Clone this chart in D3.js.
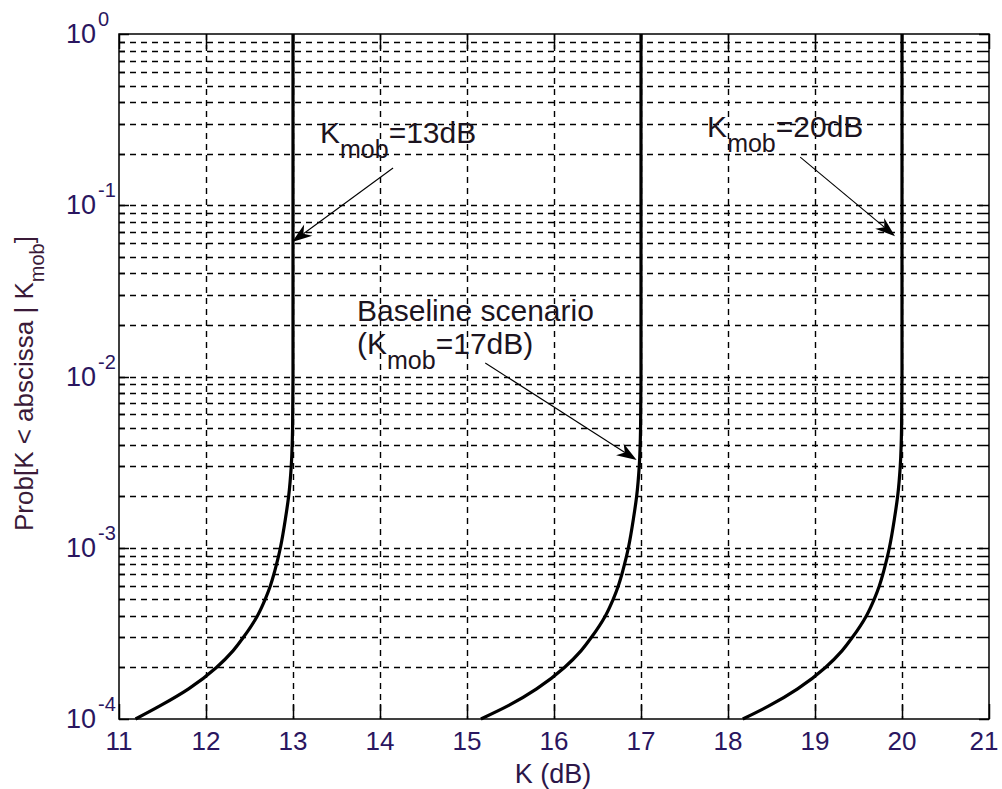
<!DOCTYPE html>
<html>
<head>
<meta charset="utf-8">
<script src="https://cdn.jsdelivr.net/npm/d3@7"></script>
<style>
  html, body { margin: 0; padding: 0; background: #fff; }
  svg { display: block; font-family: Arial, "Liberation Sans", sans-serif; }
</style>
</head>
<body>
<svg id="chart" width="1002" height="789"></svg>
<script>
// Probability levels at which each cumulative curve is sampled
const probLevels = [1e-4, 1.2e-4, 1.5e-4, 2e-4, 2.5e-4, 3e-4, 4e-4, 5e-4, 6e-4, 7e-4,
                    8e-4, 9e-4, 1e-3, 1.5e-3, 2e-3, 3e-3, 5e-3, 1e-2, 1e-1, 1];

// K (dB) reached at each probability level, one array per K_mob value
const kMob13 = [11.19, 11.48, 11.80, 12.12, 12.31, 12.43, 12.59, 12.68, 12.74, 12.78,
                12.81, 12.835, 12.855, 12.915, 12.95, 12.98, 12.995, 13.0, 13.0, 13.0];
const kMob17 = [15.16, 15.48, 15.80, 16.12, 16.31, 16.43, 16.59, 16.68, 16.74, 16.78,
                16.81, 16.835, 16.855, 16.915, 16.95, 16.98, 16.995, 17.0, 17.0, 17.0];
const kMob20 = [18.17, 18.48, 18.80, 19.12, 19.31, 19.43, 19.59, 19.68, 19.74, 19.78,
                19.81, 19.835, 19.855, 19.915, 19.95, 19.98, 19.995, 20.0, 20.0, 20.0];
const seriesK = [kMob13, kMob17, kMob20];

// Axis tick values
const xTicks = [11, 12, 13, 14, 15, 16, 17, 18, 19, 20, 21];
const yExponents = [0, -1, -2, -3, -4];

// Annotation labels: text lines, label anchor and arrow in (K, Prob) units
const annLines = [
  [{ pre: "K", sub: "mob", post: "=13dB" }],
  [{ pre: "K", sub: "mob", post: "=20dB" }],
  [{ pre: "Baseline scenario", sub: "", post: "" }, { pre: "(K", sub: "mob", post: "=17dB)" }]
];
const annAnchorK = [13.31, 17.76, 13.736];
const annAnchorP = [0.231, 0.251, 0.0212];
const arrowFromK = [14.15, 18.83, 15.21];
const arrowFromP = [0.165, 0.191, 0.012];
const arrowToK   = [12.99, 19.92, 16.95];
const arrowToP   = [0.061, 0.066, 0.00325];

const svg = d3.select("#chart");
const plotL = 119, plotR = 989, plotT = 34, plotB = 719;

const x = d3.scaleLinear().domain([11, 21]).range([plotL, plotR]);
const y = d3.scaleLog().domain([1e-4, 1]).range([plotB, plotT]);

svg.append("rect").attr("width", 1002).attr("height", 789).attr("fill", "#fff");

// Minor/major horizontal grid positions on the log axis
const yGridVals = [];
for (let e = -4; e < 0; e++) {
  for (let m = 1; m <= 9; m++) yGridVals.push(m * Math.pow(10, e));
}
yGridVals.push(1);

const grid = svg.append("g").attr("stroke", "#000").attr("stroke-width", 1.4)
  .attr("stroke-dasharray", "6,5").attr("fill", "none");

grid.selectAll("line.h").data(yGridVals.filter(v => v > 1e-4 && v < 1)).join("line")
  .attr("class", "h")
  .attr("x1", plotL).attr("x2", plotR)
  .attr("y1", d => Math.round(y(d)) + 0.5).attr("y2", d => Math.round(y(d)) + 0.5);

grid.selectAll("line.v").data(xTicks.filter(v => v > 11 && v < 21)).join("line")
  .attr("class", "v")
  .attr("y1", plotT).attr("y2", plotB)
  .attr("x1", d => Math.round(x(d)) + 0.5).attr("x2", d => Math.round(x(d)) + 0.5);

// Axes with inward ticks on all four sides
const axes = svg.append("g").attr("stroke", "#000").attr("stroke-width", 1.5);
const majorLen = 15, yMajorLen = 10, yMinorLen = 6;

xTicks.forEach(v => {
  const px = Math.round(x(v)) + 0.5;
  axes.append("line").attr("x1", px).attr("x2", px).attr("y1", plotB).attr("y2", plotB - majorLen);
  axes.append("line").attr("x1", px).attr("x2", px).attr("y1", plotT).attr("y2", plotT + majorLen);
});
yGridVals.forEach(v => {
  const py = Math.round(y(v)) + 0.5;
  const isMajor = Math.abs(Math.log10(v) - Math.round(Math.log10(v))) < 1e-9;
  const len = isMajor ? yMajorLen : yMinorLen;
  axes.append("line").attr("x1", plotL).attr("x2", plotL + len).attr("y1", py).attr("y2", py);
  axes.append("line").attr("x1", plotR).attr("x2", plotR - len).attr("y1", py).attr("y2", py);
});

axes.append("rect")
  .attr("x", plotL).attr("y", plotT)
  .attr("width", plotR - plotL).attr("height", plotB - plotT)
  .attr("fill", "none");

// Tick labels (the last one is nudged so it stays inside the page)
const tickColor = "#2a1660";
svg.append("g").selectAll("text").data(xTicks).join("text")
  .attr("x", d => Math.min(x(d), 984)).attr("y", 750)
  .attr("text-anchor", "middle")
  .attr("font-size", 26).attr("fill", tickColor)
  .text(d => d);

const yl = svg.append("g").selectAll("text").data(yExponents).join("text")
  .attr("x", 66).attr("y", d => y(Math.pow(10, d)) + 9)
  .attr("font-size", 27).attr("fill", tickColor);
yl.append("tspan").text("10");
yl.append("tspan").attr("font-size", 20).attr("dx", 2).attr("dy", -17).text(d => d);

// Axis labels
svg.append("text")
  .attr("x", 553).attr("y", 783).attr("text-anchor", "middle")
  .attr("font-size", 27).attr("fill", "#2c1648")
  .text("K (dB)");

const ylab = svg.append("text")
  .attr("transform", "translate(33,531) rotate(-90)")
  .attr("font-size", 26).attr("fill", "#3a1a38");
ylab.append("tspan").text("Prob[K < abscissa | K");
ylab.append("tspan").attr("font-size", 20).attr("dy", 11).text("mob");
ylab.append("tspan").attr("dy", -11).text("]");

// Cumulative curves
const line = d3.line()
  .x(d => x(d[0]))
  .y(d => y(d[1]))
  .curve(d3.curveMonotoneY);

svg.append("g").selectAll("path").data(seriesK).join("path")
  .attr("d", ks => line(ks.map((k, i) => [k, probLevels[i]])))
  .attr("fill", "none").attr("stroke", "#000").attr("stroke-width", 3.2)
  .attr("stroke-linejoin", "round");

// Annotations: each label line is its own text element
const annColor = "#1c1420";
const ann = svg.append("g");
annLines.forEach((lines, i) => {
  const ax = x(annAnchorK[i]), ay = y(annAnchorP[i]);
  lines.forEach((ln, j) => {
    const t = ann.append("text")
      .attr("x", ax).attr("y", ay + j * 33)
      .attr("font-size", 30).attr("fill", annColor);
    t.append("tspan").text(ln.pre);
    if (ln.sub) {
      t.append("tspan").attr("font-size", 25).attr("dy", 15).text(ln.sub);
      t.append("tspan").attr("dy", -15).text(ln.post);
    }
  });

  const x0 = x(arrowFromK[i]), y0 = y(arrowFromP[i]);
  const x1 = x(arrowToK[i]), y1 = y(arrowToP[i]);
  const ang = Math.atan2(y1 - y0, x1 - x0);
  const headLen = 20, headHalf = 7, notch = 14;
  const ux = Math.cos(ang), uy = Math.sin(ang);
  const nx = -uy, ny = ux;
  ann.append("line")
    .attr("x1", x0).attr("y1", y0)
    .attr("x2", x1 - ux * notch).attr("y2", y1 - uy * notch)
    .attr("stroke", "#000").attr("stroke-width", 1.1);
  const pts = [
    [x1, y1],
    [x1 - ux * headLen + nx * headHalf, y1 - uy * headLen + ny * headHalf],
    [x1 - ux * notch, y1 - uy * notch],
    [x1 - ux * headLen - nx * headHalf, y1 - uy * headLen - ny * headHalf]
  ];
  ann.append("polygon")
    .attr("points", pts.map(p => p.join(",")).join(" "))
    .attr("fill", "#000");
});
</script>
</body>
</html>
